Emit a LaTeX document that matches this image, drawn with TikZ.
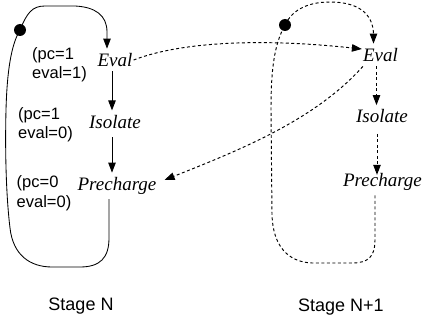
\documentclass[tikz,border=0pt]{standalone}
\usepackage{fontspec}
\setmainfont{Liberation Serif}
\setsansfont{Liberation Sans}
\usetikzlibrary{arrows.meta}
\begin{document}
\begin{tikzpicture}[x=1pt,y=-1pt,
  state/.style={font=\itshape\fontsize{19}{21}\selectfont, inner xsep=1pt, inner ysep=4.5pt, anchor=base},
  cond/.style={font=\sffamily\fontsize{16.5}{19.5}\selectfont, align=left, anchor=north west, inner sep=0pt},
  stagelbl/.style={font=\sffamily\fontsize{18}{20}\selectfont, anchor=base},
  dot/.style={circle, fill=black, inner sep=0pt, minimum size=12pt},
  arr/.style={-{Triangle[length=10pt,width=7.5pt]}, line width=0.85pt},
  dsh/.style={dash pattern=on 3pt off 2.5pt, line width=0.95pt}]
\useasboundingbox (0,0) rectangle (424,321);
% left stage
\node[state] (e1) at (115,66.5) {Eval};
\node[state] (i1) at (115,128.3) {Isolate};
\node[state] (p1) at (117,190.5) {Precharge};
\node[dot] (d1) at (20,30) {};
\node[cond] (c1) at (32,47) {(pc=1\\eval=1)};
\node[cond] (c2) at (18,107) {(pc=1\\eval=0)};
\node[cond] (c3) at (16.5,175.5) {(pc=0\\eval=0)};
% right stage
\node[state] (e2) at (380.5,61.5) {Eval};
\node[state] (i2) at (382,123) {Isolate};
\node[state] (p2) at (382.5,186.7) {Precharge};
\node[dot] (d2) at (285,25) {};
% stage labels
\node[stagelbl] (s1) at (81,311) {Stage N};
\node[stagelbl] (s2) at (341,311.5) {Stage N+1};
% left arrows
\draw[arr] ([xshift=-3pt]e1.south) -- ([xshift=-3pt]e1.south |- i1.north);
\draw[arr] ([xshift=-3pt,yshift=-4pt]i1.south) -- ([xshift=-3pt]i1.south |- p1.north);
\draw[arr] ([xshift=-8pt]p1.south) -- (109,238) .. controls (109,258) and (100,267) .. (80,267)
  -- (52,267) .. controls (30,267) and (13,255) .. (10,228)
  .. controls (6,195) and (5,150) .. (6,110) .. controls (7,72) and (11,45) .. (d1.center)
  .. controls (27,13) and (32,6) .. (45,6) -- (75,6) .. controls (95,7) and (107,15) .. (107,32)
  -- ([xshift=-8pt]e1.north);
% right arrows
\draw[arr,dsh] ([xshift=-4pt]e2.south) -- ([xshift=-4pt]e2.south |- i2.north);
\draw[arr,dsh] ([xshift=-5pt,yshift=-6pt]i2.south) -- ([xshift=-5pt,yshift=-6pt]i2.south |- p2.north);
\draw[arr,dsh] ([xshift=-7.5pt]p2.south) -- (375,240) .. controls (375,257) and (368,263) .. (352,263)
  -- (312,263) .. controls (287,262) and (273,245) .. (272,215)
  -- (271,110) .. controls (271,70) and (274,45) .. (d2.center)
  .. controls (291,12) and (305,2) .. (330,2) .. controls (356,2) and (373.5,12) .. (373.5,35)
  -- ([xshift=-7pt]e2.north);
% cross arrows
\draw[arr,dsh] (e1.east) .. controls (180,42) and (260,38) .. ([yshift=6pt]e2.west);
\draw[arr,dsh] ([xshift=1pt]e2.south west) .. controls (315,120) and (240,150) .. ([shift={(7pt,6pt)}]p1.east);
\end{tikzpicture}
\end{document}
